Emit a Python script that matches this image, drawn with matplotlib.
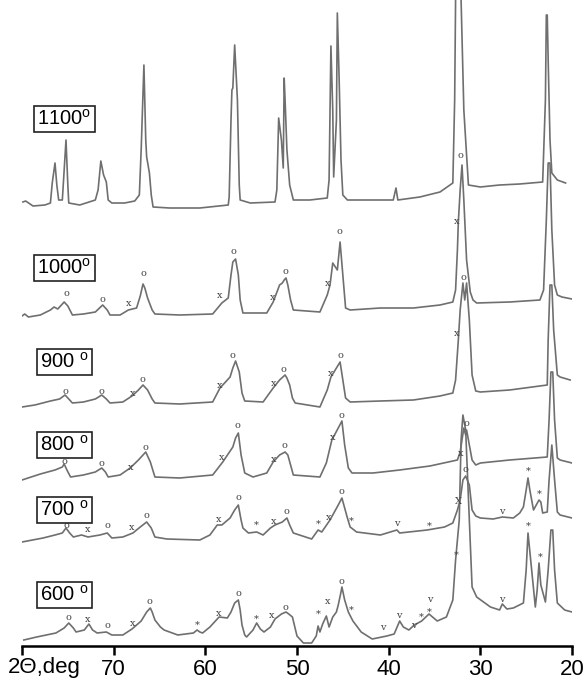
import matplotlib
matplotlib.use('Agg')
import matplotlib.pyplot as plt

# XRD patterns, 2theta (deg) vs intensity (a.u., already stacked)
theta_1100 = [79.9, 79.6, 78.8, 77.5, 76.9, 76.7, 76.4, 76.2, 76.0, 75.6, 75.5, 75.2, 75.0, 74.9,
              73.7, 72.0, 71.7, 71.4, 71.1, 70.8, 70.6, 70.2, 68.8, 67.7, 67.2, 67.0, 66.7, 66.5,
              66.4, 66.1, 65.9, 65.7, 63.9, 60.6, 57.5, 57.4, 57.2, 57.1, 57.0, 56.8, 56.5, 56.3,
              56.2, 55.1, 52.4, 52.2, 52.0, 51.7, 51.5, 51.4, 51.3, 51.1, 50.8, 50.4, 48.6, 46.7,
              46.5, 46.3, 46.1, 46.0, 45.7, 45.6, 45.4, 45.2, 45.0, 44.5, 42.0, 39.5, 39.2, 39.0,
              36.6, 34.4, 33.0, 32.8, 32.7, 32.4, 32.1, 31.8, 31.3, 30.0, 27.9, 25.7, 23.2, 22.9,
              22.8, 22.7, 22.6, 22.4, 22.2, 21.6, 20.7]
inten_1100 = [444, 445, 440, 441, 443, 463, 483, 461, 446, 446, 461, 506, 461, 443,
              441, 446, 456, 485, 471, 464, 446, 443, 443, 445, 451, 496, 581, 506,
              489, 473, 451, 439, 438, 438, 441, 449, 526, 556, 558, 601, 546, 461,
              446, 443, 444, 456, 528, 506, 478, 568, 546, 496, 461, 446, 446, 448,
              466, 600, 536, 469, 526, 633, 566, 486, 451, 446, 446, 446, 458, 446,
              449, 454, 463, 546, 646, 686, 646, 536, 461, 459, 461, 462, 464, 546,
              631, 631, 586, 506, 473, 466, 463]

theta_1000 = [80.0, 79.7, 79.3, 78.0, 76.9, 76.5, 76.1, 75.4, 75.0, 74.5, 73.3, 72.0, 71.2, 70.7,
              70.4, 69.3, 68.4, 67.5, 67.1, 66.8, 66.6, 66.3, 65.8, 65.5, 62.8, 59.2, 58.2, 57.5,
              57.2, 57.0, 56.7, 56.4, 56.2, 55.9, 53.3, 52.6, 51.9, 51.6, 51.4, 51.2, 51.0, 50.7,
              50.4, 47.5, 46.7, 46.4, 46.1, 45.6, 45.3, 45.0, 44.7, 44.2, 40.9, 37.3, 34.4, 33.0,
              32.7, 32.5, 32.4, 32.2, 32.0, 31.8, 31.5, 31.1, 30.8, 30.4, 26.8, 23.5, 23.1, 22.8,
              22.6, 22.4, 22.2, 21.9, 21.6, 21.1, 20.0]
inten_1000 = [330, 332, 329, 331, 336, 339, 337, 344, 340, 331, 332, 334, 341, 336,
              331, 331, 336, 338, 350, 362, 358, 348, 336, 332, 331, 332, 343, 348,
              371, 384, 387, 371, 346, 333, 333, 344, 361, 363, 366, 368, 361, 346,
              336, 334, 351, 361, 383, 376, 404, 371, 338, 336, 338, 338, 341, 344,
              356, 396, 424, 456, 481, 446, 386, 354, 346, 343, 344, 346, 356, 426,
              483, 483, 416, 361, 351, 349, 347]

theta_900 = [80.0, 78.6, 76.9, 75.9, 75.3, 75.0, 74.5, 73.3, 72.0, 71.3, 70.8, 70.4, 69.0, 68.0,
             67.3, 66.8, 66.3, 65.8, 65.5, 62.8, 59.2, 58.4, 57.5, 57.3, 57.0, 56.7, 56.3, 56.0,
             55.7, 53.7, 52.6, 51.9, 51.3, 51.1, 50.8, 50.5, 50.2, 47.5, 46.7, 46.3, 45.7, 45.3,
             45.0, 44.7, 44.2, 40.9, 37.3, 34.4, 33.0, 32.7, 32.4, 32.2, 31.9, 31.7, 31.5, 31.2,
             30.9, 30.5, 30.0, 26.8, 22.7, 22.6, 22.4, 22.2, 22.0, 21.6, 21.3, 20.2]
inten_900 = [239, 241, 245, 247, 251, 248, 243, 244, 247, 251, 247, 243, 244, 250,
             256, 261, 256, 247, 243, 242, 244, 258, 267, 269, 278, 285, 274, 253,
             245, 244, 258, 266, 271, 268, 261, 248, 243, 239, 256, 269, 278, 284,
             266, 248, 244, 245, 246, 250, 253, 266, 306, 336, 363, 346, 363, 326,
             271, 255, 254, 256, 261, 306, 361, 361, 316, 271, 269, 266]

theta_800 = [80.0, 78.0, 76.4, 75.6, 75.4, 75.1, 74.7, 73.3, 72.0, 71.3, 70.9, 70.6, 69.3, 68.2,
             67.3, 66.5, 66.0, 65.5, 62.8, 59.2, 58.1, 57.0, 56.7, 56.4, 56.1, 55.7, 54.8, 53.3,
             52.6, 51.9, 51.3, 51.0, 50.7, 50.4, 47.5, 46.8, 46.2, 45.5, 45.1, 44.8, 44.4, 44.0,
             41.7, 38.8, 35.5, 32.5, 32.2, 32.0, 31.8, 31.6, 31.5, 31.2, 30.9, 30.5, 30.0, 26.8,
             22.7, 22.5, 22.3, 22.1, 21.9, 21.6, 21.3, 20.0]
inten_800 = [166, 172, 176, 179, 182, 176, 169, 171, 174, 178, 174, 169, 171, 178,
             186, 194, 184, 169, 168, 171, 184, 199, 208, 213, 191, 173, 169, 173,
             184, 191, 194, 191, 181, 171, 169, 183, 206, 218, 225, 201, 178, 173,
             173, 176, 180, 186, 194, 206, 218, 211, 216, 201, 186, 181, 183, 186,
             189, 226, 274, 274, 226, 188, 186, 183]

theta_700 = [80.0, 77.7, 76.4, 75.6, 75.2, 74.8, 74.4, 73.5, 72.8, 71.5, 70.7, 70.2, 69.0, 67.9,
             67.1, 66.4, 65.9, 65.5, 64.2, 60.6, 59.5, 58.7, 58.2, 57.3, 56.8, 56.4, 56.1, 55.9,
             55.3, 54.4, 53.7, 52.9, 52.4, 51.6, 51.1, 50.8, 50.4, 48.4, 47.7, 47.3, 46.4, 45.5,
             45.1, 44.8, 44.5, 44.2, 43.5, 40.9, 39.1, 38.8, 35.8, 33.9, 33.0, 32.5, 32.2, 31.9,
             31.6, 31.2, 30.9, 30.5, 30.0, 28.6, 27.6, 26.4, 25.7, 25.3, 25.0, 24.8, 24.6, 24.2,
             23.9, 23.6, 23.4, 23.2, 22.7, 22.5, 22.2, 21.9, 21.6, 21.3, 20.0]
inten_700 = [104, 108, 111, 113, 118, 113, 109, 111, 109, 111, 113, 108, 109, 113,
             119, 124, 118, 109, 107, 106, 111, 121, 121, 128, 136, 141, 126, 118,
             113, 114, 111, 118, 121, 124, 128, 121, 113, 107, 116, 114, 126, 141,
             148, 138, 128, 119, 114, 111, 116, 113, 116, 119, 123, 136, 146, 166,
             170, 161, 136, 130, 128, 127, 129, 128, 133, 139, 156, 168, 156, 136,
             141, 146, 144, 133, 134, 166, 201, 166, 134, 131, 128]

theta_600 = [79.8, 78.4, 76.3, 75.4, 74.9, 74.4, 74.1, 73.2, 72.7, 72.3, 71.8, 70.8, 70.2, 69.0,
             68.0, 67.5, 67.0, 66.6, 66.4, 66.0, 65.8, 65.5, 64.9, 64.5, 63.0, 61.3, 60.9, 60.6,
             60.3, 59.5, 59.1, 58.5, 57.6, 57.2, 56.8, 56.4, 56.2, 56.0, 55.7, 55.5, 54.8, 54.4,
             54.0, 53.6, 52.9, 52.4, 51.7, 51.2, 50.9, 50.5, 50.0, 49.3, 48.4, 47.9, 47.7, 47.5,
             47.2, 46.8, 46.5, 46.1, 45.7, 45.5, 45.2, 45.1, 44.8, 44.4, 43.9, 43.0, 41.8, 40.2,
             39.4, 38.8, 38.4, 37.8, 37.2, 36.4, 35.6, 34.7, 33.7, 33.0, 32.7, 32.3, 32.1, 31.9,
             31.6, 31.2, 30.9, 30.4, 28.9, 27.9, 27.6, 27.1, 26.4, 25.3, 25.0, 24.8, 24.4, 24.0,
             23.8, 23.6, 23.4, 22.9, 22.6, 22.3, 22.1, 21.9, 21.6, 20.8, 20.0]
inten_600 = [6, 9, 13, 18, 23, 18, 14, 16, 22, 16, 13, 14, 11, 11,
             17, 21, 25, 31, 34, 38, 34, 26, 19, 16, 11, 13, 16, 14,
             13, 19, 23, 29, 28, 34, 43, 46, 36, 21, 11, 9, 16, 23,
             17, 14, 19, 27, 32, 34, 32, 29, 10, 3, 3, 10, 20, 14,
             22, 30, 19, 29, 34, 41, 54, 59, 46, 34, 25, 14, 7, 10,
             12, 25, 19, 16, 21, 25, 32, 25, 29, 46, 86, 126, 206, 231,
             216, 126, 59, 49, 39, 36, 42, 37, 38, 43, 76, 113, 76, 39,
             56, 83, 61, 44, 76, 116, 116, 76, 43, 36, 34]

# phase marks written over the peaks
marks_1100 = []
marks_1000 = [(75.2, 352, 'o'), (71.2, 347, 'o'), (68.4, 343, 'x'), (66.8, 372, 'o'),
              (58.4, 350, 'x'), (56.9, 394, 'o'), (52.7, 348, 'x'), (51.3, 374, 'o'),
              (46.7, 363, 'x'), (45.4, 414, 'o'), (32.6, 424, 'x'), (32.2, 490, 'o')]
marks_900 = [(75.3, 255, 'o'), (71.3, 255, 'o'), (67.9, 252, 'x'), (66.9, 267, 'o'),
             (58.4, 261, 'x'), (57.0, 291, 'o'), (52.6, 263, 'x'), (51.5, 276, 'o'),
             (46.3, 272, 'x'), (45.3, 290, 'o'), (32.6, 313, 'x'), (31.8, 369, 'o')]
marks_800 = [(75.4, 185, 'o'), (71.3, 182, 'o'), (68.1, 179, 'x'), (66.5, 199, 'o'),
             (58.2, 189, 'x'), (56.5, 220, 'o'), (52.6, 186, 'x'), (51.4, 200, 'o'),
             (46.1, 208, 'x'), (45.2, 231, 'o'), (32.2, 193, 'x'), (31.5, 223, 'o')]
marks_700 = [(75.1, 120, 'o'), (72.8, 117, 'x'), (70.7, 120, 'o'), (68.0, 118, 'x'),
             (66.4, 131, 'o'), (58.5, 127, 'x'), (56.4, 148, 'o'), (54.4, 121, '*'),
             (52.6, 125, 'x'), (51.1, 134, 'o'), (47.7, 122, '*'), (46.5, 129, 'x'),
             (45.2, 155, 'o'), (44.1, 125, '*'), (39.1, 122, 'v'), (35.6, 120, '*'),
             (32.4, 144, 'X'), (31.6, 176, 'o'), (27.7, 134, 'v'), (24.8, 175, '*'),
             (23.6, 152, '*')]
marks_600 = [(74.9, 29, 'o'), (72.8, 27, 'x'), (70.7, 20, 'o'), (67.9, 23, 'x'),
             (66.1, 44, 'o'), (60.9, 21, '*'), (58.5, 33, 'x'), (56.4, 52, 'o'),
             (54.4, 27, '*'), (52.8, 30, 'x'), (51.3, 39, 'o'), (47.7, 32, '*'),
             (46.7, 44, 'x'), (45.2, 65, 'o'), (44.1, 36, '*'), (40.6, 19, 'v'),
             (38.9, 30, 'v'), (37.3, 21, 'v'), (36.4, 29, '*'), (35.6, 34, '*'),
             (35.5, 46, 'v'), (32.6, 91, '*'), (27.7, 46, 'v'), (24.8, 120, '*'),
             (23.5, 89, '*')]

temps = ['1100', '1000', '900', '800', '700', '600']
ticks = [80, 70, 60, 50, 40, 30, 20]
tick_labels = ['', '70', '60', '50', '40', '30', '20']

patterns = [(theta_1100, inten_1100, marks_1100), (theta_1000, inten_1000, marks_1000),
            (theta_900, inten_900, marks_900), (theta_800, inten_800, marks_800),
            (theta_700, inten_700, marks_700), (theta_600, inten_600, marks_600)]
label_level = [527, 378, 284, 201, 136, 51]

fig = plt.figure(figsize=(5.83, 6.82), dpi=100)
ax = fig.add_axes([22/583, 36/682, 550/583, 646/682])

for (tt, ii, mm), temp, ly in zip(patterns, temps, label_level):
  ax.plot(tt, ii, color='#6f6f6f', lw=1.2, solid_joinstyle='round')
  for x, y, s in mm:
    ax.text(x, y, s, fontsize=7, family='DejaVu Serif', color='#444444',
            ha='center', va='center')
  sep = '' if len(temp) == 4 else ' '
  ax.text(75.4, ly, temp + sep + r'$^\mathregular{o}$', fontsize=14.5,
          family='Liberation Sans', ha='center', va='center', zorder=5,
          bbox=dict(boxstyle='square,pad=0.16', fc='white', ec='#222222', lw=1.2))

ax.set_xlim(80, 20)
ax.set_ylim(0, 646)
ax.set_xticks(ticks)
ax.set_xticklabels(tick_labels, fontsize=16, family='Liberation Sans')
ax.tick_params(axis='x', direction='out', length=6.5, width=1.8, pad=3)
ax.set_yticks([])
for s in ['left', 'right', 'top']:
  ax.spines[s].set_visible(False)
ax.spines['bottom'].set_linewidth(1.8)
ax.patch.set_alpha(0)

fig.text(8/583, 1 - 668/682, '2\u0398,deg', fontsize=16, family='Liberation Sans',
         ha='left', va='center')

fig.savefig('out.png', dpi=100)
